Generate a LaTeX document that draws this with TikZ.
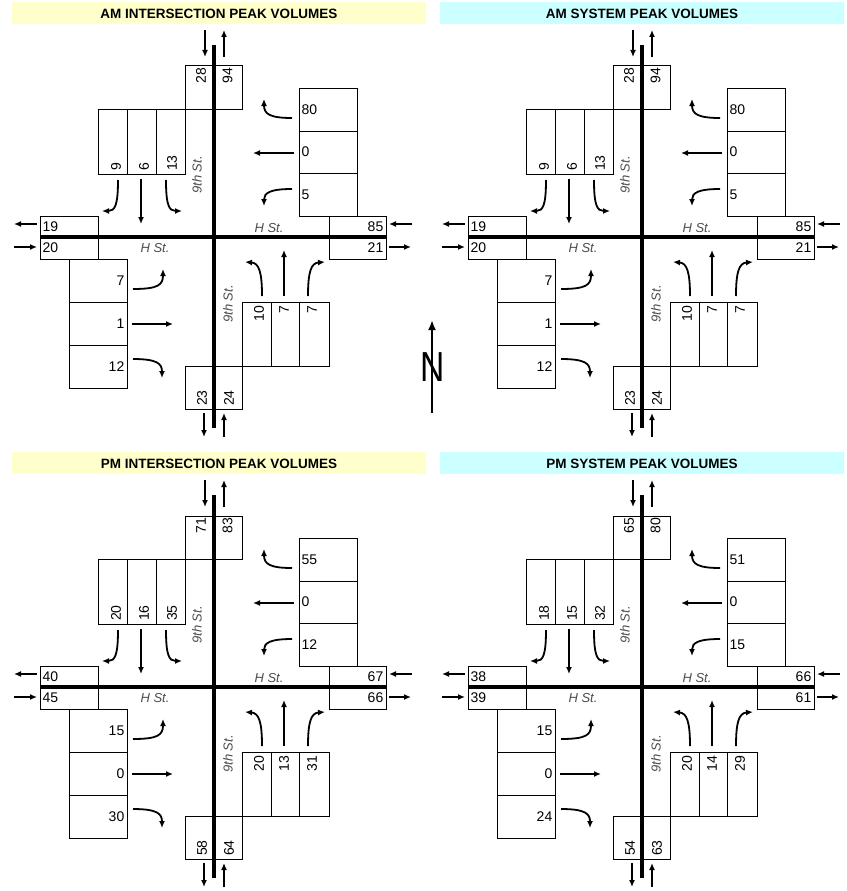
\documentclass[tikz,border=0pt]{standalone}
\usepackage{fontspec}
\setmainfont{Liberation Sans}
\usetikzlibrary{arrows.meta}
\definecolor{hdryel}{HTML}{FFFFCC}
\definecolor{hdrcyan}{HTML}{CCFFFF}
\tikzset{
 box/.style={draw=black, line width=1pt},
 road/.style={line width=3.6pt},
 mv/.style={line width=1.8pt, -{Latex[length=7pt,width=6pt]}},
 num/.style={font=\fontsize{14}{14}\selectfont, inner sep=1pt},
 vnum/.style={num, rotate=90},
 street/.style={font=\fontsize{13}{13}\selectfont\itshape, inner sep=0pt, text=black!70},
 hdr/.style={font=\fontsize{13.5}{13.5}\selectfont\bfseries, inner sep=0pt},
}
\newcommand\qvsetA[9]{\def\qvNa{#1}\def\qvNb{#2}\def\qvSBa{#3}\def\qvSBb{#4}\def\qvSBc{#5}\def\qvWBa{#6}\def\qvWBb{#7}\def\qvWBc{#8}\def\qvWo{#9}}
\newcommand\qvsetB[9]{\def\qvWi{#1}\def\qvEi{#2}\def\qvEo{#3}\def\qvEBa{#4}\def\qvEBb{#5}\def\qvEBc{#6}\def\qvNBa{#7}\def\qvNBb{#8}\def\qvNBc{#9}}
\newcommand\qvsetC[2]{\def\qvSa{#1}\def\qvSb{#2}}
\newcommand\drawquad[7]{%
\begin{scope}[shift={(#1,#2)}, name prefix=#3-]
 % header
 \fill[#6] (#4,2) rectangle (#5,24);
 \node[hdr] (hdr) at ({(#4+#5)/2},13.5) {#7};
 % boxes
 \draw[box] (185,66) rectangle (242,109);
 \draw[box] (98,109) rectangle (185,174);
 \draw[box] (127.5,109) -- (127.5,174) (156,109) -- (156,174);
 \draw[box] (299,88) rectangle (357,216);
 \draw[box] (299,131) -- (357,131) (299,173) -- (357,173);
 \draw[box] (40,216) rectangle (98,259);
 \draw[box] (329,216) rectangle (386,259);
 \draw[box] (69,259) rectangle (127,388);
 \draw[box] (69,302) -- (127,302) (69,345) -- (127,345);
 \draw[box] (242,302) rectangle (329,366);
 \draw[box] (271,302) -- (271,366) (299.5,302) -- (299.5,366);
 \draw[box] (185,366) rectangle (242,409);
 % roads
 \draw[road] (214,45) -- (214,428);
 \draw[road] (40,237) -- (386,237);
 % numbers
 \node[vnum, anchor=east] (nN1) at (201,67) {\qvNa};
 \node[vnum, anchor=east] (nN2) at (227.5,67) {\qvNb};
 \node[vnum, anchor=west] (nSB1) at (116,172) {\qvSBa};
 \node[vnum, anchor=west] (nSB2) at (144,172) {\qvSBb};
 \node[vnum, anchor=west] (nSB3) at (172,172) {\qvSBc};
 \node[num, anchor=west] (nWB1) at (300.5,109.5) {\qvWBa};
 \node[num, anchor=west] (nWB2) at (300.5,152) {\qvWBb};
 \node[num, anchor=west] (nWB3) at (300.5,194.5) {\qvWBc};
 \node[num, anchor=west] (nW1) at (41.5,226.5) {\qvWo};
 \node[num, anchor=west] (nW2) at (41.5,248) {\qvWi};
 \node[num, anchor=east] (nE1) at (384.5,226.5) {\qvEi};
 \node[num, anchor=east] (nE2) at (384.5,248) {\qvEo};
 \node[num, anchor=east] (nEB1) at (125.5,280.5) {\qvEBa};
 \node[num, anchor=east] (nEB2) at (125.5,323.7) {\qvEBb};
 \node[num, anchor=east] (nEB3) at (125.5,366.7) {\qvEBc};
 \node[vnum, anchor=east] (nNB1) at (259,305) {\qvNBa};
 \node[vnum, anchor=east] (nNB2) at (284,305) {\qvNBb};
 \node[vnum, anchor=east] (nNB3) at (312,305) {\qvNBc};
 \node[vnum, anchor=west] (nS1) at (202,407) {\qvSa};
 \node[vnum, anchor=west] (nS2) at (229,407) {\qvSb};
 % street names
 \node[street, rotate=90] (st1) at (197,175) {9th St.};
 \node[street, rotate=90] (st2) at (228,304) {9th St.};
 \node[street] (st3) at (155,248) {H St.};
 \node[street] (st4) at (269,228) {H St.};
 % leg arrows
 \draw[mv] (205,30) -- (205,57);
 \draw[mv] (224,57) -- (224,30);
 \draw[mv] (204,413) -- (204,437);
 \draw[mv] (224,437) -- (224,413);
 \draw[mv] (37,224) -- (14,224);
 \draw[mv] (14,247) -- (37,247);
 \draw[mv] (412,224) -- (389,224);
 \draw[mv] (389,247) -- (411,247);
 % westbound movements
 \draw[mv] (292,118) .. controls (270,118) and (264,114) .. (264,99);
 \draw[mv] (294,153) -- (253,153);
 \draw[mv] (292,189) .. controls (270,189) and (264,193) .. (264,206);
 % southbound movements
 \draw[mv] (118,180) .. controls (118,205) and (115,211) .. (102,211);
 \draw[mv] (141,179) -- (141,224);
 \draw[mv] (166,180) .. controls (166,205) and (169,211) .. (182,211);
 % eastbound movements
 \draw[mv] (133,289) .. controls (158,289) and (163,285) .. (163,269);
 \draw[mv] (132,324) -- (173,324);
 \draw[mv] (133,359) .. controls (158,359) and (162,364) .. (162,378);
 % northbound movements
 \draw[mv] (262,296) .. controls (262,272) and (259,263) .. (245,262);
 \draw[mv] (284,296) -- (284,250);
 \draw[mv] (308,296) .. controls (308,272) and (311,263) .. (325,262);
\end{scope}}
\begin{document}
\begin{tikzpicture}[x=1pt,y=-1pt]
\fill[white] (0,0) rectangle (846,891);
\useasboundingbox (0,0) rectangle (846,891);
% AM intersection
\qvsetA{28}{94}{9}{6}{13}{80}{0}{5}{19}
\qvsetB{20}{85}{21}{7}{1}{12}{10}{7}{7}
\qvsetC{23}{24}
\drawquad{0}{0}{q1}{12}{426}{hdryel}{AM INTERSECTION PEAK VOLUMES}
% AM system
\drawquad{428}{0}{q2}{12}{416}{hdrcyan}{AM SYSTEM PEAK VOLUMES}
% PM intersection
\qvsetA{71}{83}{20}{16}{35}{55}{0}{12}{40}
\qvsetB{45}{67}{66}{15}{0}{30}{20}{13}{31}
\qvsetC{58}{64}
\drawquad{0}{450}{q3}{12}{426}{hdryel}{PM INTERSECTION PEAK VOLUMES}
% PM system
\qvsetA{65}{80}{18}{15}{32}{51}{0}{15}{38}
\qvsetB{39}{66}{61}{15}{0}{24}{20}{14}{29}
\qvsetC{54}{63}
\drawquad{428}{450}{q4}{12}{416}{hdrcyan}{PM SYSTEM PEAK VOLUMES}
% north arrow
\draw[line width=2.5pt, -{Latex[length=10pt,width=8pt]}] (432,413) -- (432,320);
\node[font=\fontsize{42}{42}\selectfont, xscale=0.8, inner sep=0pt] (north) at (433,367) {N};
\end{tikzpicture}
\end{document}
